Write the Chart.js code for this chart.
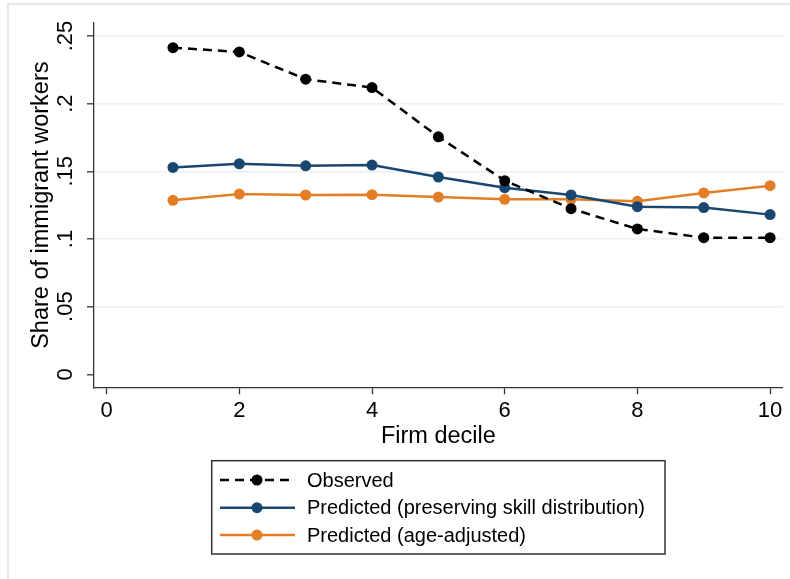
<!DOCTYPE html>
<html>
<head>
<meta charset="utf-8">
<script src="https://cdn.jsdelivr.net/npm/chart.js@4/dist/chart.umd.min.js"></script>
<style>
html,body{margin:0;padding:0;background:#fff;}
#wrap{width:790px;height:579px;}
</style>
</head>
<body>
<div id="wrap"><canvas id="c" width="790" height="579"></canvas></div>
<script>
const categories = [1, 2, 3, 4, 5, 6, 7, 8, 9, 10];
const observed = [0.2414, 0.2382, 0.2181, 0.2119, 0.1755, 0.1431, 0.1224, 0.1074, 0.1010, 0.1010];
const predSkill = [0.1529, 0.1556, 0.1541, 0.1546, 0.1458, 0.1379, 0.1325, 0.1239, 0.1232, 0.1180];
const predAge = [0.1286, 0.1332, 0.1325, 0.1327, 0.1310, 0.1293, 0.1293, 0.1278, 0.1340, 0.1394];
const seriesLabels = ["Observed", "Predicted (preserving skill distribution)", "Predicted (age-adjusted)"];
const xTicks = [0, 2, 4, 6, 8, 10];
const yTicks = [0, 0.05, 0.1, 0.15, 0.2, 0.25];
const yTickLabels = ["0", ".05", ".1", ".15", ".2", ".25"];
const xTitle = "Firm decile";
const yTitle = "Share of immigrant workers";

const FONT = "'Liberation Sans', Arial, sans-serif";
const BLUE = '#1a476f', ORANGE = '#e37e27', BLACK = '#000000';

function pts(arr){ return categories.map((c,i)=>({x:c, y:arr[i]})); }

const extras = {
  id: 'extras',
  beforeDraw(chart){
    const ctx = chart.ctx;
    ctx.save();
    ctx.fillStyle = '#fff';
    ctx.fillRect(0,0,chart.width,chart.height);
    ctx.strokeStyle = '#e3eaee';
    ctx.lineWidth = 2;
    ctx.strokeRect(8, 4, 820, 620);
    ctx.restore();
  },
  afterDraw(chart){
    const ctx = chart.ctx;
    const ys = chart.scales.y, xs = chart.scales.x;
    const ca = chart.chartArea;
    ctx.save();
    // y tick labels, rotated
    ctx.fillStyle = '#000';
    ctx.font = '22px ' + FONT;
    ctx.textAlign = 'center';
    ctx.textBaseline = 'alphabetic';
    yTicks.forEach((v,i)=>{
      const py = ys.getPixelForValue(v);
      ctx.save();
      ctx.translate(71.7, py);
      ctx.rotate(-Math.PI/2);
      ctx.fillText(yTickLabels[i], 0, 0);
      ctx.restore();
    });
    // y title
    ctx.font = '23.5px ' + FONT;
    ctx.save();
    ctx.translate(48, (ca.top+ca.bottom)/2);
    ctx.rotate(-Math.PI/2);
    ctx.fillText(yTitle, 0, 0);
    ctx.restore();
    // x title
    ctx.fillText(xTitle, (ca.left+ca.right)/2, 443.3);
    // legend
    const bx = 211.7, by = 460.7, bw = 665-211.7, bh = 554-460.7;
    ctx.fillStyle = '#fff';
    ctx.fillRect(bx, by, bw, bh);
    ctx.strokeStyle = '#333';
    ctx.lineWidth = 1.5;
    ctx.strokeRect(bx, by, bw, bh);
    const rows = [480, 507.7, 535];
    ctx.font = '20px ' + FONT;
    ctx.textAlign = 'left';
    ctx.textBaseline = 'middle';
    chart.data.datasets.forEach((ds,i)=>{
      const ry = rows[i];
      ctx.save();
      ctx.strokeStyle = ds.borderColor;
      ctx.lineWidth = ds.borderWidth;
      ctx.setLineDash(ds.borderDash || []);
      ctx.beginPath();
      ctx.moveTo(220, ry);
      ctx.lineTo(295, ry);
      ctx.stroke();
      ctx.setLineDash([]);
      ctx.fillStyle = ds.pointBackgroundColor;
      ctx.beginPath();
      ctx.arc(257, ry, ds.pointRadius, 0, Math.PI*2);
      ctx.fill();
      ctx.restore();
      ctx.fillStyle = '#000';
      ctx.fillText(ds.label, 307, ry + 1);
    });
    ctx.restore();
  }
};

new Chart(document.getElementById('c'), {
  type: 'line',
  data: {
    datasets: [
      { label: seriesLabels[0], data: pts(observed), borderColor: BLACK, borderWidth: 2.5, borderDash: [9,6],
        pointBackgroundColor: BLACK, pointBorderWidth: 0, pointRadius: 5.5, tension: 0 },
      { label: seriesLabels[1], data: pts(predSkill), borderColor: BLUE, borderWidth: 2.5,
        pointBackgroundColor: BLUE, pointBorderWidth: 0, pointRadius: 5.5, tension: 0 },
      { label: seriesLabels[2], data: pts(predAge), borderColor: ORANGE, borderWidth: 2.5,
        pointBackgroundColor: ORANGE, pointBorderWidth: 0, pointRadius: 5.5, tension: 0 }
    ]
  },
  options: {
    responsive: false,
    animation: false,
    devicePixelRatio: 1,
    layout: { padding: { top: 23, right: 7.3, left: 0, bottom: 0 } },
    plugins: { legend: { display: false }, tooltip: { enabled: false } },
    scales: {
      x: {
        type: 'linear', min: -0.19, max: 10.19,
        afterBuildTicks: s => { s.ticks = xTicks.map(v=>({value:v})); },
        afterFit: s => { s.height = 579 - 387.3; },
        ticks: { color: '#000', font: { family: FONT, size: 22 }, padding: 3, maxRotation: 0, autoSkip: false,
                 callback: v => String(v) },
        grid: { drawOnChartArea: false, drawTicks: true, tickLength: 7, tickColor: '#333', tickWidth: 1.3 },
        border: { color: '#333', width: 1.3 }
      },
      y: {
        type: 'linear', min: -0.0096, max: 0.2596,
        afterBuildTicks: s => { s.ticks = yTicks.map(v=>({value:v})); },
        afterFit: s => { s.width = 94; },
        ticks: { color: 'rgba(0,0,0,0)', font: { family: FONT, size: 22 }, padding: 3 },
        grid: { color: ctx => (ctx.tick && ctx.tick.value === 0) ? 'rgba(0,0,0,0)' : '#e9f0f2',
                lineWidth: 1.6, drawTicks: true, tickLength: 7, tickColor: '#333', tickWidth: 1.3 },
        border: { color: '#333', width: 1.3 }
      }
    }
  },
  plugins: [extras]
});
</script>
</body>
</html>
